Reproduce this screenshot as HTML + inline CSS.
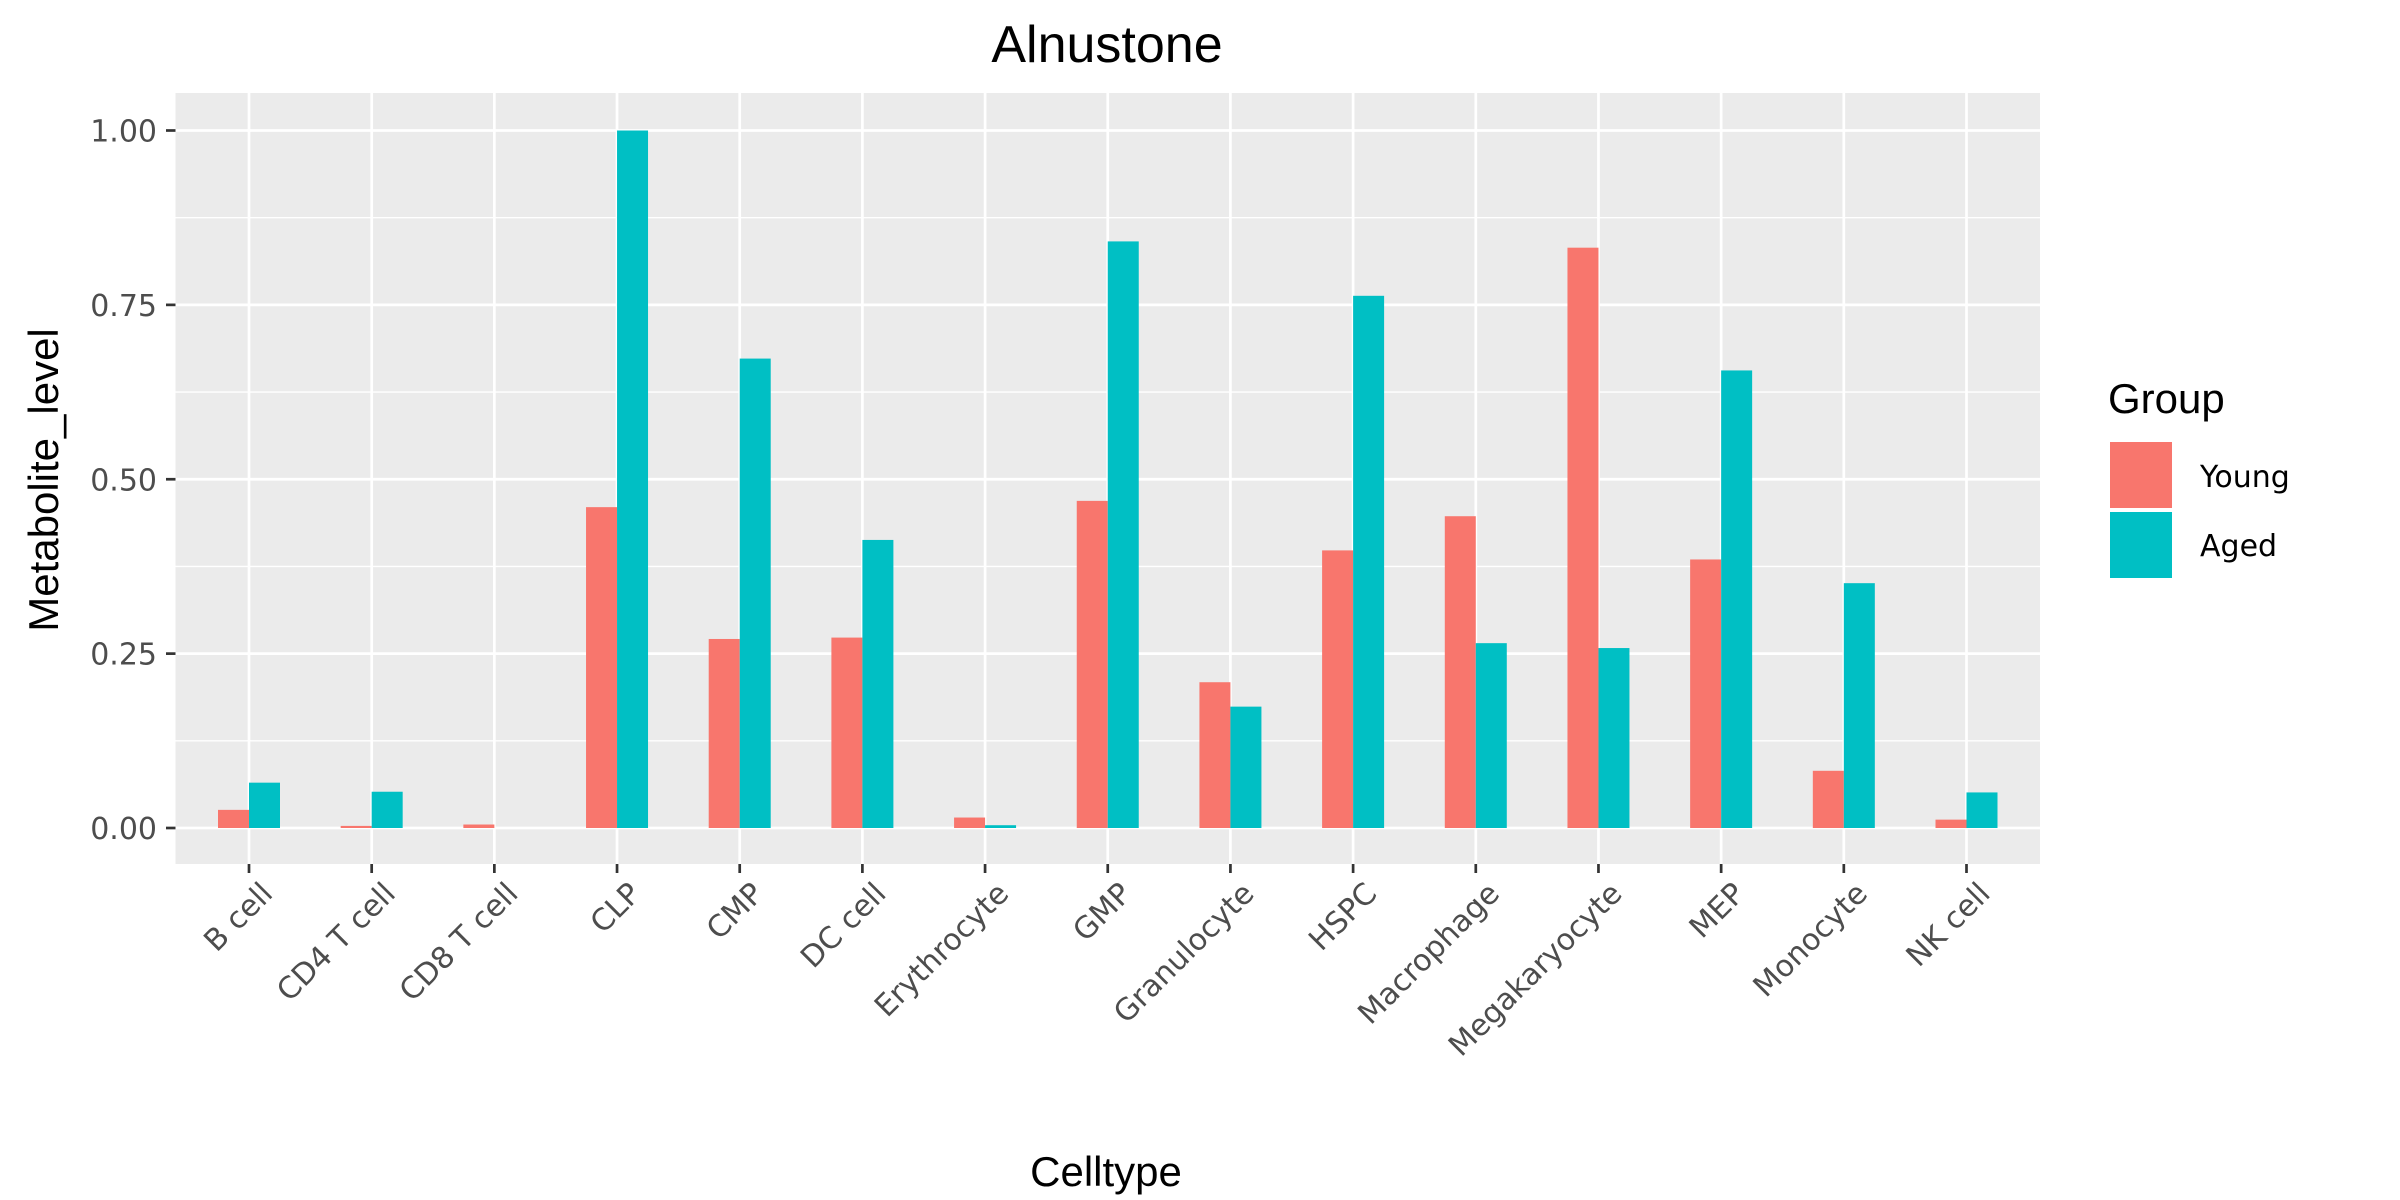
<!DOCTYPE html>
<html><head><meta charset="utf-8"><style>html,body{margin:0;padding:0;background:#fff}svg{display:block;font-family:"Liberation Sans",sans-serif}.dv{font-family:"DejaVu Sans",sans-serif}</style></head>
<body>
<svg id="chart" width="2400" height="1200" xmlns="http://www.w3.org/2000/svg">
<rect width="2400" height="1200" fill="#fff"/>
<text x="1107" y="62" font-size="52" text-anchor="middle" fill="#000">Alnustone</text>
<rect x="175.5" y="93" width="1864.5" height="771" fill="#ebebeb"/>
<g id="grid"></g>
<g id="bars"></g>
<g id="axes"></g>
<text x="1106" y="1186" font-size="42" text-anchor="middle" fill="#000">Celltype</text>
<text transform="translate(58,480) rotate(-90)" font-size="42" text-anchor="middle" fill="#000">Metabolite_level</text>
<g>
<text x="2108" y="413" font-size="42" fill="#000">Group</text>
<rect x="2110" y="442" width="62" height="66" fill="#F8766D"/>
<text class="dv" x="2200" y="487" font-size="30" fill="#000">Young</text>
<rect x="2110" y="512" width="62" height="66" fill="#00BFC4"/>
<text class="dv" x="2200" y="556" font-size="30" fill="#000">Aged</text>
</g>
</svg>
<script>
const categories=["B cell","CD4 T cell","CD8 T cell","CLP","CMP","DC cell","Erythrocyte","GMP","Granulocyte","HSPC","Macrophage","Megakaryocyte","MEP","Monocyte","NK cell"];
const young=[0.026,0.003,0.005,0.46,0.271,0.273,0.015,0.469,0.209,0.398,0.447,0.832,0.385,0.082,0.012];
const aged=[0.065,0.052,0,1.0,0.673,0.413,0.004,0.841,0.174,0.763,0.265,0.258,0.656,0.351,0.051];
const yTicks=[0,0.25,0.5,0.75,1.0];
const yTickLabels=["0.00","0.25","0.50","0.75","1.00"];
const yMinor=[0.125,0.375,0.625,0.875];
const NS="http://www.w3.org/2000/svg";
const PL=175.5,PR=2040,PT=93,PB=864;
function yScale(v){return 828-v*697.5;}
function xScale(i){return 249+i*((1966.5-249)/(categories.length-1));}
const bw=31;
function mk(tag,attrs,parent){const e=document.createElementNS(NS,tag);for(const k in attrs)e.setAttribute(k,attrs[k]);parent.appendChild(e);return e;}
const grid=document.getElementById('grid'),bars=document.getElementById('bars'),axes=document.getElementById('axes');
yMinor.forEach(v=>{const l=mk('line',{x1:PL,x2:PR,y1:yScale(v),y2:yScale(v),stroke:'#fff','stroke-width':1.3},grid);

});
yTicks.forEach((v,i)=>{const l=mk('line',{x1:PL,x2:PR,y1:yScale(v),y2:yScale(v),stroke:'#fff','stroke-width':2.7},grid);


const t=mk('line',{x1:166,x2:175.5,y1:yScale(v),y2:yScale(v),stroke:'#333','stroke-width':2.7},axes);


const tx=mk('text',{class:'dv',x:157,y:yScale(v)+11,'font-size':30,'text-anchor':'end',fill:'#4d4d4d'},axes);
tx.textContent=yTickLabels[i];

});
categories.forEach((c,i)=>{const x=xScale(i);
const l=mk('line',{x1:x,x2:x,y1:PT,y2:PB,stroke:'#fff','stroke-width':2.7},grid);


const yb=mk('rect',{x:x-bw,y:yScale(young[i]),width:bw,height:yScale(0)-yScale(young[i]),fill:'#F8766D'},bars);


const ab=mk('rect',{x:x,y:yScale(aged[i]),width:bw,height:yScale(0)-yScale(aged[i]),fill:'#00BFC4'},bars);


const t=mk('line',{x1:x,x2:x,y1:PB,y2:PB+9,stroke:'#333','stroke-width':2.7},axes);


const tx=mk('text',{class:'dv',transform:'translate('+(x+10)+','+(PB+16)+') rotate(-45)','font-size':30,'text-anchor':'end',dy:'0.72em',fill:'#4d4d4d'},axes);
tx.textContent=c;

});
</script>
</body></html>
